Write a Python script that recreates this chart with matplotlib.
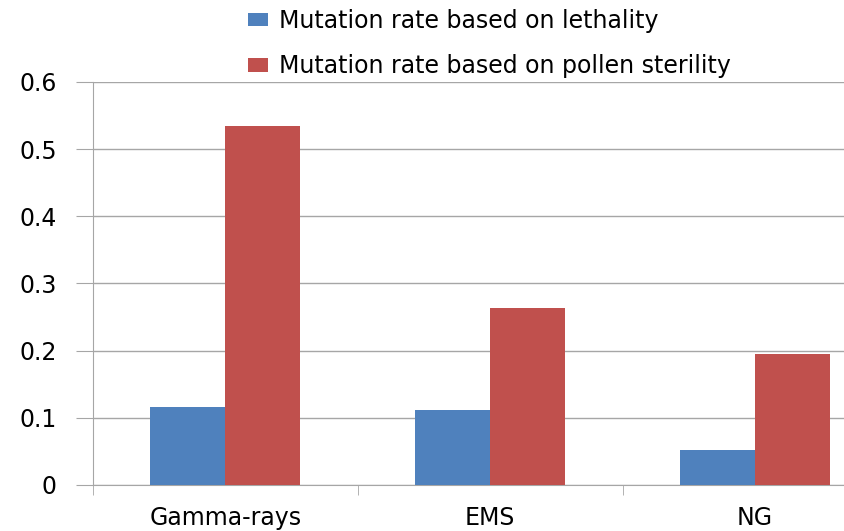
import numpy as np
import matplotlib.pyplot as plt

categories = ['Gamma-rays', 'EMS', 'NG']
lethality = [0.116, 0.112, 0.052]
pollen = [0.534, 0.2635, 0.195]
labels = ['Mutation rate based on lethality', 'Mutation rate based on pollen sterility']

W, H = 844, 531
fig = plt.figure(figsize=(W / 100, H / 100), dpi=100)
ax = fig.add_axes([93 / W, (H - 485) / H, (887.5 - 93) / W, (485 - 82) / H])

x = np.arange(len(categories))
w = 0.283
ax.bar(x - w / 2, lethality, w, color='#4f81bd', label=labels[0], zorder=3)
ax.bar(x + w / 2, pollen, w, color='#c0504d', label=labels[1], zorder=3)

ax.set_xlim(-0.5, 2.5)
ax.set_ylim(0, 0.6)
ax.set_yticks(np.arange(0, 0.61, 0.1))
ax.set_yticklabels(['0', '0.1', '0.2', '0.3', '0.4', '0.5', '0.6'])
ax.grid(axis='y', color='#a6a6a6', linewidth=1, zorder=0)
ax.set_xticks(x)
ax.set_xticklabels(categories)
ax.set_xticks([-0.5, 0.5, 1.5, 2.5], minor=True)
ax.tick_params(axis='x', which='major', length=0, pad=15, labelsize=17)
ax.tick_params(axis='x', which='minor', length=7, color='#a6a6a6', direction='out')
ax.tick_params(axis='y', length=12, color='#a6a6a6', labelsize=17, pad=14)
for s in ['top', 'right']:
    ax.spines[s].set_visible(False)
for s in ['left', 'bottom']:
    ax.spines[s].set_color('#a6a6a6')

fig.legend(loc='upper left', bbox_to_anchor=(248 / W, 1 - 9 / H), frameon=False,
           fontsize=17, handlelength=0.85, handleheight=0.5, handletextpad=0.45,
           labelspacing=0.9, borderpad=0, borderaxespad=0)

fig.savefig('out.png', dpi=100)
